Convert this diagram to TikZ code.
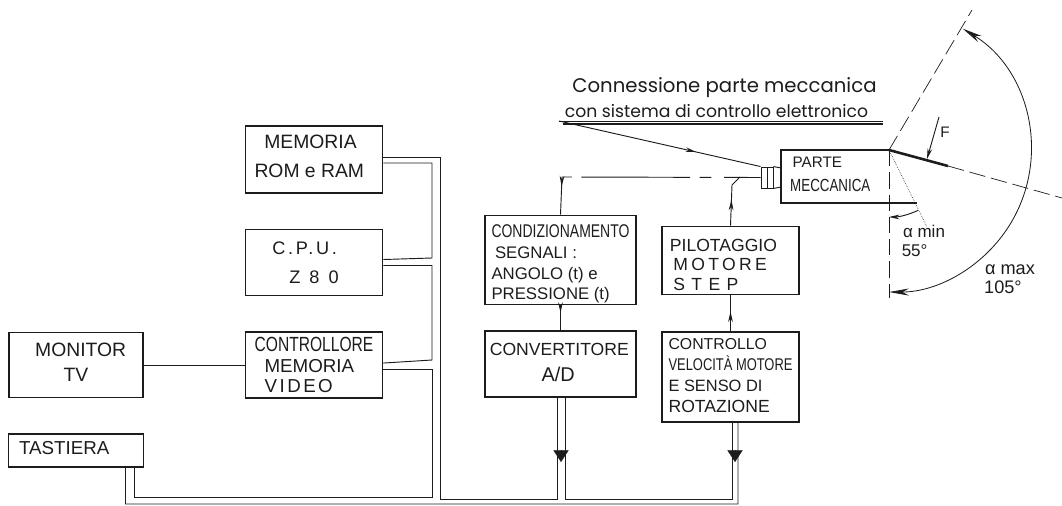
\documentclass[tikz,border=0pt]{standalone}
\usepackage{fontspec}
\usetikzlibrary{calc,positioning,arrows.meta,decorations.markings}
\newfontfamily\largofont{Liberation Sans}
\newfontfamily\strettofont[FakeStretch=0.76]{Liberation Sans}
\newfontfamily\scrittafont{Poppins}
\definecolor{ink}{RGB}{28,28,28}
\newcommand{\largo}[2]{\fontsize{#1}{#2}\selectfont\largofont}
\newcommand{\stretto}[2]{\fontsize{#1}{#2}\selectfont\strettofont}
\newcommand{\spaziato}[2]{{\addfontfeature{LetterSpace=#1}#2}}
\begin{document}
\begin{tikzpicture}[
        x=0.03cm,y=-0.03cm,
        node distance=1.05cm,
        blocco/.style={draw=ink,text=ink,line width=1.3pt,minimum width=4.11cm,inner sep=0pt,align=center},
        filo/.style={draw=ink,line width=0.8pt},
        rotto/.style={filo,dash pattern=on 31pt off 11pt on 10pt off 8pt on 93pt off 8pt on 60pt},
        tratto/.style={draw=ink,line width=0.6pt,dash pattern=on 14pt off 5pt},
        freccia/.style={postaction={decorate},decoration={markings,mark=at position #1 with {\arrow{Stealth[length=9pt,width=4pt]}}}},
        grossa/.style={draw=ink,line width=0.2pt,-{Triangle[length=10pt,width=13pt,fill=ink]}},
        lunga/.style={draw=ink,line width=0.7pt,{Stealth[length=17pt,width=6pt]}-{Stealth[length=17pt,width=6pt]}},
        etichetta/.style={text=ink,inner sep=0pt}
      ]
      \useasboundingbox (0,0) rectangle (1062,506);

      \node[blocco,minimum height=2.01cm,font=\largo{16.5}{25}] at (314,159.5) (memoria) {\hspace*{-6pt}MEMORIA\\\hspace*{-8pt}ROM e RAM\rule[-5pt]{0pt}{0pt}};
      \node[blocco,below=of memoria,minimum height=1.98cm,font=\largo{15.5}{24.5}] (cpu) {\hspace*{-16pt}\spaziato{15}{C.P.U.}\\\spaziato{50}{Z80}};
      \node[blocco,below=of cpu,minimum height=1.98cm,font=\largo{16}{17.5}] (controllore) {{\stretto{17.5}{17.5}CONTROLLORE}\\\hspace*{-8pt}MEMORIA\\\hspace*{-26pt}\spaziato{13}{VIDEO}};
      \node[blocco,left=3.03cm of controllore,minimum width=4.02cm,minimum height=1.95cm,font=\largo{16.5}{21}] (monitor) {\hspace*{8pt}MONITOR\\TV\rule[-5pt]{0pt}{0pt}};
      \node[blocco,below=of monitor,minimum width=4.05cm,minimum height=0.99cm,font=\largo{16}{16}] (tastiera) {\hspace*{-20pt}TASTIERA\rule[-5pt]{0pt}{0pt}};

      \node[blocco,minimum width=4.53cm,minimum height=1.98cm,font=\largo{15}{22}] at (560.5,364) (convertitore) {\hspace*{-2pt}CONVERTITORE\\\hspace*{-4pt}{\fontsize{17}{22}\selectfont A/D}\rule[-3pt]{0pt}{0pt}};
      \node[blocco,above=0.75cm of convertitore,minimum width=4.53cm,minimum height=2.67cm,align=left,font=\largo{14.3}{17.6}] (condiz) {\rule{0pt}{18pt}{\stretto{15.7}{17.6}CONDIZIONAMENTO}\\\hspace*{3pt}SEGNALI :\\ANGOLO (t) e\\PRESSIONE (t)};
      \node[blocco,minimum height=2.70cm,align=left,font=\largo{14}{17.8}] at (730.5,377) (controllo) {{\fontsize{13.5}{17.8}\selectfont CONTROLLO}\\{\stretto{14.5}{17.8}VELOCITÀ MOTORE}\\E SENSO DI\\{\fontsize{15}{17.8}\selectfont ROTAZIONE}\rule[-3pt]{0pt}{0pt}};
      \node[blocco,above=1.08cm of controllo,minimum height=2.04cm,align=left,font=\largo{15}{17}] (pilotaggio) {\rule{0pt}{18pt}PILOTAGGIO\hspace*{12pt}\\\hspace*{3pt}\spaziato{19}{MOTORE}\\\hspace*{3pt}\spaziato{36}{STEP}};

      \node[etichetta,anchor=west,align=left,font=\stretto{15}{20}] at (790,174.5) (parte) {\hspace*{2pt}{\largo{13}{20}PARTE}\\MECCANICA};
      \node[draw=ink,line width=0.8pt,minimum width=0.36cm,minimum height=0.63cm,inner sep=0pt] at (767,177.5) (innesto) {};

      \node[etichetta,font=\scrittafont\fontsize{16.8}{18}\selectfont] at (724.5,88) (titolo) {Connessione parte meccanica};
      \node[etichetta,font=\scrittafont\fontsize{14.7}{15}\selectfont] at (716.5,111) (sottotitolo) {con sistema di controllo elettronico};
      \node[etichetta,font=\largofont\fontsize{13}{14}\selectfont] at (945,132) (forza) {F};
      \node[etichetta,align=center,font=\largo{14.5}{15.5}] at (924,241) (amin) {α min\\\hspace*{-16pt}55°};
      \node[etichetta,align=center,font=\largo{15.5}{16.5}] at (1010,279) (amax) {α max\\\hspace*{-12pt}105°};

      \coordinate (cardine) at (889,150);
      \coordinate (guida) at (559,121);
      \coordinate (leva) at (948,166);
      \coordinate (incrocio) at (740,177);
      \coordinate (angolo) at (562,177);

      \draw[filo] ([yshift=0.075cm]memoria.east) -| (440,499) -| ([xshift=-0.105cm]convertitore.south);
      \draw[filo] ([yshift=-0.105cm]memoria.east) -| (432,258) -- ([yshift=0.09cm]cpu.east);
      \draw[filo] ([yshift=-0.09cm]cpu.east) -| (432,360) -- ([yshift=0.06cm]controllore.east);
      \draw[filo] ([yshift=-0.12cm]controllore.east) -| (432,497) -| ([xshift=1.755cm]tastiera.south);
      \draw[filo] ([xshift=1.485cm]tastiera.south) |- (738,504) -- ([xshift=0.225cm]controllo.south);
      \draw[filo] ([xshift=0.135cm]convertitore.south) |- (732,499) -- ([xshift=0.045cm]controllo.south);
      \draw[filo] (monitor.east) -- (controllore.west);
      \draw[grossa] (561,450) -- (561,462);
      \draw[grossa] (735,450) -- (735,462);

      \draw[filo,freccia=0.3] (condiz.south) -- (convertitore.north);
      \draw[filo,freccia=0.55] (controllo.north) -- (pilotaggio.south);
      \draw[rotto,freccia=0.88] (innesto.west) -- (angolo) -- (condiz.north);
      \draw[filo,freccia=0.5] (pilotaggio.north) -- (732,185) -- (incrocio);

      \draw[filo,freccia=0.68] (guida) -- (innesto.north west);
      \draw[filo,line width=0.8pt] (guida) -- (883,121);
      \draw[filo,line width=1pt] (563,124) -- (883,124);

      \draw[filo,line width=0.8pt] (767.5,167) -- (767.5,188);
      \draw[filo,line width=0.8pt] (innesto.north east) -- (781,168);
      \draw[filo,line width=0.8pt] (innesto.south east) -- (781,187);

      \draw[draw=ink,line width=1.6pt] (cardine) -- (781,150) -- (781,203) -- (917,203);
      \draw[draw=ink,line width=2.2pt] (cardine) -- (leva);
      \draw[tratto] (leva) -- (1062,198);
      \draw[tratto] (cardine) -- (972,10);
      \draw[tratto] (cardine) -- (889,298);
      \draw[draw=ink,line width=0.5pt,densely dotted] (cardine) -- (927,227);
      \draw[filo,-{Stealth[length=9pt,width=4pt]}] (939,117) -- (927,159);

      \draw[lunga] (962.8,28.7) arc[start angle=58.7,end angle=-90,radius=4.26cm];
      \draw[filo,-{Stealth[length=9pt,width=4pt]}] (918.1,210.3) arc[start angle=-64.2,end angle=-90,radius=2.01cm];
    \end{tikzpicture}
\end{document}
